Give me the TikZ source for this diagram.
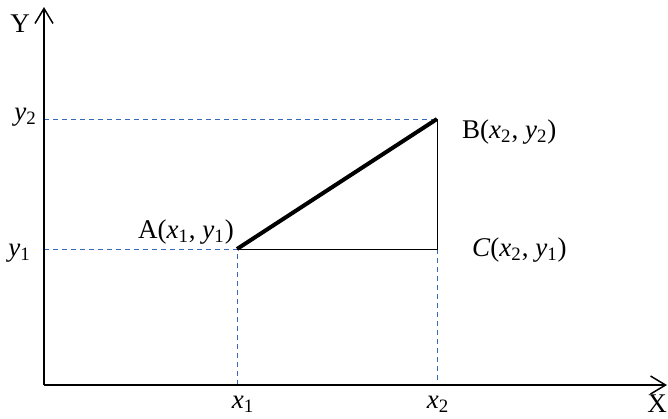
\documentclass[tikz,border=0pt]{standalone}
\usepackage{fontspec}
\setmainfont{Liberation Serif}
\usepackage{xcolor}
\usetikzlibrary{arrows.meta, positioning}
\definecolor{guideblue}{RGB}{55,105,185}
\newcommand{\varsub}[2]{\textit{#1}\textsubscript{#2}}

\begin{document}
\begin{tikzpicture}[x=0.5pt, y=-0.5pt, font=\fontsize{13.5}{16}\selectfont,
    axis/.style={line width=0.75pt, -{Straight Barb[length=7.5pt, width=9pt]}},
    guide/.style={draw=guideblue, line width=0.5pt, dash pattern=on 2.5pt off 2pt},
    side/.style={line width=0.5pt}]
    \useasboundingbox (0,0) rectangle (668,418);
    % points
    \coordinate (O) at (44,385);
    \coordinate (xend) at (667,385);
    \coordinate (yend) at (44,7);
    \coordinate (A) at (237,249);
    \coordinate (B) at (437,119);
    \coordinate (C) at (437,249);
    % guides
    \draw[guide] (O |- A) -- (A) -- (A |- O);
    \draw[guide] (O |- B) -- (B);
    \draw[guide] (C) -- (C |- O);
    % triangle
    \draw[side] (A) -- (C) -- (B);
    \draw[line width=2pt] (A) -- (B);
    % axes
    \draw[axis] (O) -- (yend);
    \draw[axis] (O) -- (xend);
    % labels
    \node (ylab) at (20,24) {Y};
    \node (xlab) at (657,404) {X};
    \node[left] (y2lab) at (44,117) {\varsub{y}{2}};
    \node[left] (y1lab) at (38,253) {\varsub{y}{1}};
    \node (x1lab) at (243,404) {\varsub{x}{1}};
    \node (x2lab) at (438,404) {\varsub{x}{2}};
    \node[above left=-1pt and -2pt of A] (Alab) {A(\varsub{x}{1}, \varsub{y}{1})};
    \node[right] (Blab) at (455,132) {B(\varsub{x}{2}, \varsub{y}{2})};
    \node[right] (Clab) at (465,250) {\textit{C}(\varsub{x}{2}, \varsub{y}{1})};
\end{tikzpicture}
\end{document}
